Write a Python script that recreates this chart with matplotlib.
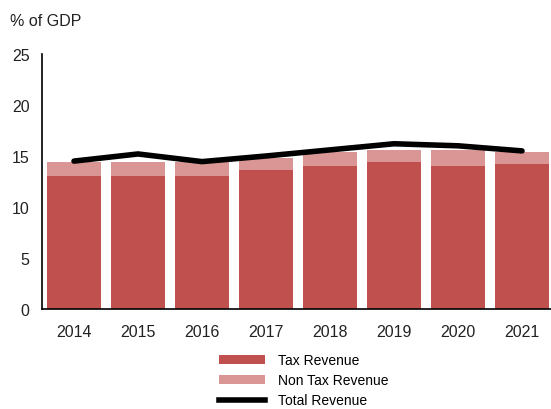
import matplotlib
matplotlib.use('Agg')
import matplotlib.pyplot as plt
from matplotlib.lines import Line2D
from matplotlib.patches import Patch
import numpy as np

plt.rcParams['font.family'] = ['Liberation Sans', 'DejaVu Sans']

years = ['2014', '2015', '2016', '2017', '2018', '2019', '2020', '2021']
tax_revenue = [13.0, 13.0, 13.0, 13.6, 14.05, 14.4, 14.05, 14.2]
non_tax_revenue = [1.4, 1.45, 1.4, 1.2, 1.35, 1.2, 1.55, 1.2]
total_revenue = [14.5, 15.2, 14.45, 15.0, 15.6, 16.2, 16.0, 15.5]

TAX_COLOR = '#C0504D'
NON_TAX_COLOR = '#D99694'

fig = plt.figure(figsize=(5.51, 4.10), dpi=100)
ax = fig.add_axes([42 / 551, 1 - 310 / 410, 512 / 551, 255 / 410])

x = np.arange(len(years))
ax.bar(x, tax_revenue, width=0.83, color=TAX_COLOR, zorder=2)
ax.bar(x, non_tax_revenue, width=0.83, bottom=tax_revenue,
       color=NON_TAX_COLOR, zorder=2)
ax.plot(x, total_revenue, color='black', lw=4, solid_joinstyle='round',
        solid_capstyle='round', zorder=3)

ax.set_xlim(-0.5, len(years) - 0.5)
ax.set_ylim(0, 25)
ax.set_yticks([0, 5, 10, 15, 20, 25])
ax.set_xticks(x)
ax.set_xticklabels(years)
ax.tick_params(axis='both', length=0, labelsize=11.5, colors='#222222')
ax.tick_params(axis='x', pad=11)
ax.tick_params(axis='y', pad=9)

for side in ('top', 'right'):
    ax.spines[side].set_visible(False)
for side in ('left', 'bottom'):
    ax.spines[side].set_color('black')
    ax.spines[side].set_linewidth(1.2)

fig.text(10 / 551, 1 - 21 / 410, '% of GDP', fontsize=11.5, color='#222222',
         va='center', ha='left')

handles = [
    Patch(facecolor=TAX_COLOR, label='Tax Revenue'),
    Patch(facecolor=NON_TAX_COLOR, label='Non Tax Revenue'),
    Line2D([0], [0], color='black', lw=4, label='Total Revenue'),
]
fig.legend(handles=handles, loc='upper left',
           bbox_to_anchor=(219 / 551, 1 - 354 / 410),
           bbox_transform=fig.transFigure, frameon=False, fontsize=10,
           handlelength=3.3, handleheight=0.6, handletextpad=0.95,
           labelspacing=0.45, borderpad=0, borderaxespad=0)

fig.savefig('out.png', dpi=100)
